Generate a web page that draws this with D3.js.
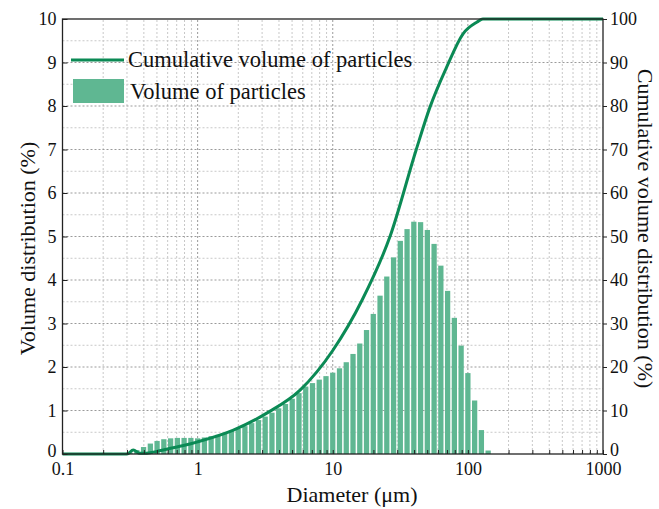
<!DOCTYPE html>
<html>
<head>
<meta charset="utf-8">
<script src="https://cdn.jsdelivr.net/npm/d3@7"></script>
<style>
  body { margin: 0; background: #fff; }
  svg text { font-family: "Liberation Serif", "Times New Roman", serif; fill: #111; }
</style>
</head>
<body>
<div id="chart"></div>
<script>
const width = 659;
const height = 509;
const margin = { top: 19, right: 56, bottom: 55, left: 62.5 };

// bin index k -> bin centre diameter 10^(k/20) um (20 bins per decade)
const binIndex = d3.range(-10, 44);
const volume = [
  0.03, 0.09, 0.16, 0.24, 0.30, 0.34, 0.36, 0.37, 0.37, 0.37,
  0.36, 0.38, 0.41, 0.44, 0.48, 0.53, 0.58, 0.64, 0.71, 0.78,
  0.86, 0.95, 1.05, 1.15, 1.27, 1.40, 1.55, 1.63, 1.71, 1.79,
  1.87, 1.97, 2.11, 2.30, 2.54, 2.85, 3.22, 3.64, 4.08, 4.52,
  4.90, 5.17, 5.34, 5.33, 5.15, 4.83, 4.33, 3.75, 3.13, 2.49,
  1.86, 1.23, 0.55, 0.08
];

// cumulative curve (diameter um, %)
const cumDiameter = [0.1, 0.3, 0.334, 0.374, 0.42, 0.5, 0.59, 0.8, 1.0, 1.84, 3.25, 5.73, 10, 16.5, 26.6, 41.4, 52.5, 69.8, 92.1, 117, 129, 200, 1000];
const cumVolume   = [0,   0,   0.9,   0.15,  0.2,  0.6, 1.1,  2.0, 2.8, 5.5,  9.4,  14.7, 23.8, 35.4, 50.1, 69.9, 79.8, 89.0, 96.6, 99.3, 100, 100, 100];

const xTickLabels = ["0.1", "1", "10", "100", "1000"];
const yLeftTicks = d3.range(0, 11, 1);
const yRightTicks = d3.range(0, 101, 10);

const barColor = "#5fb792";
const lineColor = "#0b8a55";

const svg = d3.select("#chart").append("svg")
    .attr("width", width)
    .attr("height", height);

const x = d3.scaleLog().domain([0.1, 1000]).range([margin.left, width - margin.right]);
const y = d3.scaleLinear().domain([0, 10]).range([height - margin.bottom, margin.top]);
const y2 = d3.scaleLinear().domain([0, 100]).range([height - margin.bottom, margin.top]);

// grid
const grid = svg.append("g");
const xGrid = x.ticks();
grid.selectAll("line.xg")
    .data(xGrid.filter(d => d > 0.1 && d < 1000))
    .enter().append("line")
    .attr("x1", d => x(d)).attr("x2", d => x(d))
    .attr("y1", y(0)).attr("y2", y(10))
    .attr("stroke", d => Math.abs(Math.log10(d) % 1) < 1e-9 ? "#9a9a9a" : "#c8c8c8")
    .attr("stroke-width", 1)
    .attr("stroke-dasharray", "2,2");

grid.selectAll("line.yg")
    .data(d3.range(0.5, 10, 0.5))
    .enter().append("line")
    .attr("x1", x(0.1)).attr("x2", x(1000))
    .attr("y1", d => y(d)).attr("y2", d => y(d))
    .attr("stroke", d => d % 1 === 0 ? "#9a9a9a" : "#c8c8c8")
    .attr("stroke-width", 1)
    .attr("stroke-dasharray", "2,2");

// bars
const half = 0.39 / 20;
svg.append("g")
    .selectAll("rect")
    .data(binIndex.map((k, i) => ({ k, v: volume[i] })))
    .enter().append("rect")
    .attr("x", d => x(Math.pow(10, d.k / 20 - half)))
    .attr("width", d => x(Math.pow(10, d.k / 20 + half)) - x(Math.pow(10, d.k / 20 - half)))
    .attr("y", d => y(d.v))
    .attr("height", d => y(0) - y(d.v))
    .attr("fill", barColor);

// cumulative line
const line = d3.line()
    .x(d => x(d[0]))
    .y(d => y2(d[1]))
    .curve(d3.curveMonotoneX);

svg.append("path")
    .datum(cumDiameter.map((d, i) => [d, cumVolume[i]]))
    .attr("d", line)
    .attr("fill", "none")
    .attr("stroke", lineColor)
    .attr("stroke-width", 3);

// frame
svg.append("rect")
    .attr("x", x(0.1)).attr("y", y(10))
    .attr("width", x(1000) - x(0.1)).attr("height", y(0) - y(10))
    .attr("fill", "none").attr("stroke", "#222").attr("stroke-width", 1.3);

// axes
const bottomAxis = d3.axisBottom(x)
    .tickValues(xGrid)
    .tickSizeInner(-4).tickSizeOuter(0)
    .tickFormat(d => {
        const i = [0.1, 1, 10, 100, 1000].indexOf(d);
        return i >= 0 ? xTickLabels[i] : "";
    });
const gx = svg.append("g")
    .attr("transform", `translate(0,${y(0)})`)
    .call(bottomAxis);
gx.selectAll("text").attr("y", 8).style("font-size", "18px");

const gyl = svg.append("g")
    .attr("transform", `translate(${x(0.1)},0)`)
    .call(d3.axisLeft(y).tickValues(yLeftTicks).tickSizeInner(-5).tickSizeOuter(0).tickPadding(6));
gyl.selectAll("text").style("font-size", "18px");
gyl.selectAll("text").filter(d => d === 0).attr("dy", "0.15em");

const gyr = svg.append("g")
    .attr("transform", `translate(${x(1000)},0)`)
    .call(d3.axisRight(y2).tickValues(yRightTicks).tickSizeInner(4).tickSizeOuter(0).tickPadding(3));
gyr.selectAll("text").style("font-size", "18px");
gyr.selectAll("text").filter(d => d === 0).attr("dy", "0.1em");

svg.selectAll(".domain").remove();
svg.selectAll(".tick line").attr("stroke", "#222");

// axis titles
svg.append("text")
    .attr("x", 352)
    .attr("y", 502)
    .attr("text-anchor", "middle")
    .style("font-size", "22px")
    .text("Diameter (\u03bcm)");

svg.append("text")
    .attr("transform", `translate(35,${(y(0) + y(10)) / 2 + 12}) rotate(-90)`)
    .attr("text-anchor", "middle")
    .style("font-size", "22px")
    .text("Volume distribution (%)");

svg.append("text")
    .attr("transform", `translate(638,${(y(0) + y(10)) / 2 - 8}) rotate(90)`)
    .attr("text-anchor", "middle")
    .style("font-size", "22px")
    .text("Cumulative volume distribution (%)");

// legend
const legend = svg.append("g");
legend.append("line")
    .attr("x1", 71).attr("x2", 124)
    .attr("y1", 60).attr("y2", 60)
    .attr("stroke", lineColor).attr("stroke-width", 3);
legend.append("text")
    .attr("x", 128).attr("y", 67)
    .style("font-size", "22.5px")
    .text("Cumulative volume of particles");
legend.append("rect")
    .attr("x", 73).attr("y", 79)
    .attr("width", 51).attr("height", 24)
    .attr("fill", barColor);
legend.append("text")
    .attr("x", 130).attr("y", 99)
    .style("font-size", "22.5px")
    .text("Volume of particles");
</script>
</body>
</html>
